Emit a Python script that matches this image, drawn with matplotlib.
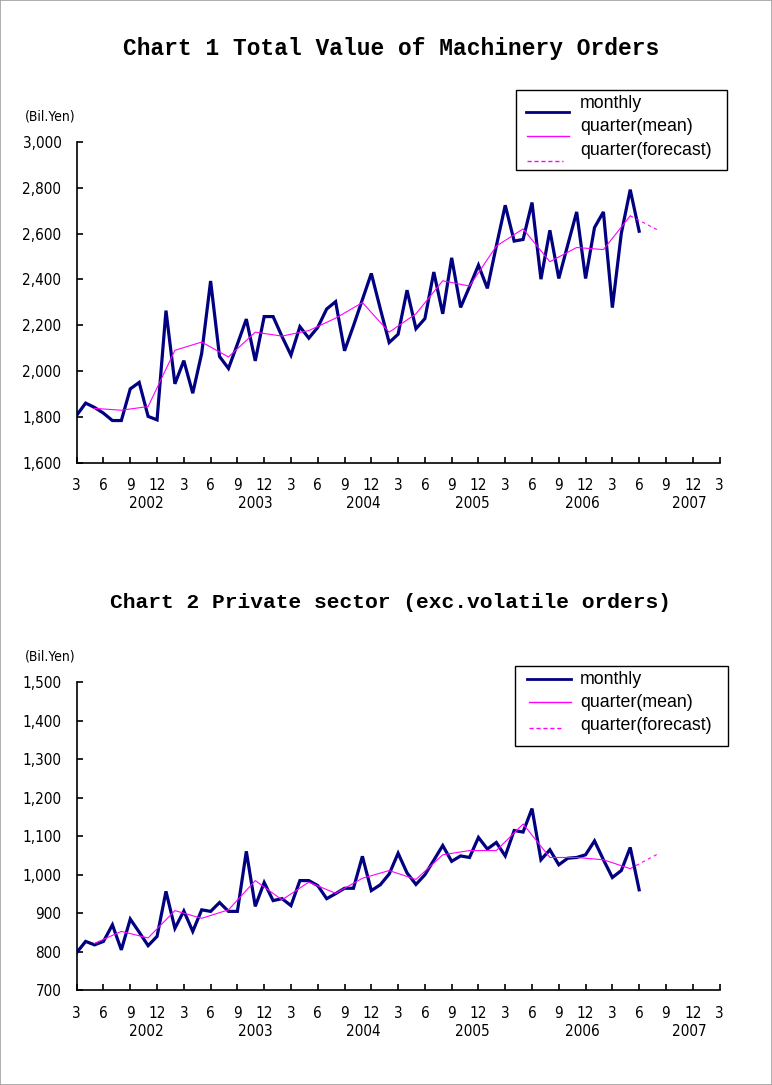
import matplotlib
matplotlib.use("Agg")
import matplotlib.pyplot as plt
import numpy as np
from matplotlib.lines import Line2D
from matplotlib.patches import Rectangle
from matplotlib import font_manager as fm

# ---------------- data ----------------
month_tick_labels = ["3", "6", "9", "12"] * 6 + ["3"]
year_labels = ["2002", "2003", "2004", "2005", "2006", "2007"]
year_label_pos = [7.8, 20.0, 32.1, 44.3, 56.6, 68.6]   # month index positions (0 = March 2002)

total_monthly = [1808, 1861, 1842, 1817, 1785, 1785, 1923, 1951, 1803, 1788,
                 2264, 1945, 2046, 1904, 2078, 2393, 2064, 2012, 2118, 2227,
                 2045, 2238, 2238, 2151, 2070, 2194, 2144, 2191, 2271, 2303,
                 2089, 2198, 2312, 2426, 2273, 2125, 2161, 2353, 2185, 2229,
                 2432, 2250, 2494, 2278, 2368, 2462, 2361, 2545, 2723, 2567,
                 2574, 2735, 2401, 2614, 2404, 2550, 2694, 2404, 2626, 2694,
                 2277, 2600, 2791, 2610]
total_quarter = [1838, 1830, 1846, 2091, 2127, 2062, 2170, 2153, 2177, 2231,
                 2299, 2170, 2250, 2394, 2371, 2545, 2620, 2477, 2539, 2530, 2677]
total_forecast = [2677, 2617]

private_monthly = [798, 827, 818, 827, 870, 805, 885, 851, 816, 840,
                   957, 861, 906, 853, 909, 905, 928, 905, 905, 1061,
                   918, 980, 933, 938, 920, 985, 985, 972, 938, 951,
                   965, 965, 1048, 959, 974, 1002, 1056, 1005, 975, 1000,
                   1038, 1076, 1035, 1049, 1045, 1097, 1067, 1084, 1049, 1115,
                   1111, 1172, 1039, 1065, 1026, 1043, 1045, 1052, 1088, 1039,
                   993, 1011, 1071, 961]
private_quarter = [822, 853, 836, 907, 887, 909, 985, 935, 981, 952,
                   991, 1011, 988, 1052, 1063, 1063, 1132, 1045, 1045, 1039, 1016]
private_forecast = [1016, 1053]

legend_labels = ["monthly", "quarter(mean)", "quarter(forecast)"]

# ---------------- style ----------------
W, H = 772, 1085
NAVY = "#000080"
MAG = "#FF00FF"

names = {f.name for f in fm.fontManager.ttflist}
if "Liberation Sans Narrow" in names:
    TICK_FP = dict(family=["Liberation Sans Narrow", "DejaVu Sans"], size=11.5)
else:
    TICK_FP = dict(family=["DejaVu Sans"], stretch="condensed", size=11)
TEXT_FONT = ["Liberation Sans", "DejaVu Sans"]
TITLE_FONT = ["Liberation Mono", "DejaVu Sans Mono"]

fig = plt.figure(figsize=(W / 100, H / 100), dpi=100)
fig.patch.set_facecolor("white")
fig.patches.append(Rectangle((0, 0), 1, 1, transform=fig.transFigure,
                             fill=False, edgecolor="#a0a0a0", lw=1.2))


def fx(px):
    return px / W


def fy(py):
    return 1 - py / H


def make_panel(top_px, bot_px, monthly, quarter, forecast, ylim, ystep,
               title, title_y, title_size, unit_y, year_y, legend_box, legend_rows):
    ax = fig.add_axes([fx(76.7), fy(bot_px), fx(719.5) - fx(76.7), (bot_px - top_px) / H])
    xm = np.arange(len(monthly))
    xq = np.arange(2, 2 + 3 * len(quarter), 3)
    xf = np.array([xq[-1], xq[-1] + 3])
    ax.plot(xm, monthly, color=NAVY, lw=2.3, solid_joinstyle="miter")
    ax.plot(xq, quarter, color=MAG, lw=0.8)
    ax.plot(xf, forecast, color=MAG, lw=0.8, ls=(0, (3, 3)))
    ax.set_xlim(0, 72)
    ax.set_ylim(*ylim)
    ax.set_xticks(np.arange(0, 73, 3))
    ax.set_xticklabels(month_tick_labels)
    yt = np.arange(ylim[0], ylim[1] + 1, ystep)
    ax.set_yticks(yt)
    ax.set_yticklabels([f"{v:,}" for v in yt])
    for s in ["top", "right"]:
        ax.spines[s].set_visible(False)
    for s in ["left", "bottom"]:
        ax.spines[s].set_linewidth(1.2)
    ax.tick_params(direction="in", length=4, width=1.2, pad=11)
    for lab in ax.get_xticklabels() + ax.get_yticklabels():
        lab.set_fontproperties(fm.FontProperties(**TICK_FP))
    yfrac = -(year_y - bot_px) / (bot_px - top_px)
    for pos, lab in zip(year_label_pos, year_labels):
        ax.text(pos, yfrac, lab, transform=ax.get_xaxis_transform(), ha="center",
                va="center", fontproperties=fm.FontProperties(**TICK_FP))
    fig.text(fx(391), fy(title_y), title, ha="center", va="center", family=TITLE_FONT,
             fontweight="bold", fontsize=title_size)
    unit_fp = dict(TICK_FP)
    unit_fp["size"] = TICK_FP["size"] - 1
    fig.text(fx(25), fy(unit_y), "(Bil.Yen)", ha="left", va="center",
             fontproperties=fm.FontProperties(**unit_fp))
    x0, y0, x1, y1 = legend_box
    fig.patches.append(Rectangle((fx(x0), fy(y1)), fx(x1) - fx(x0), (y1 - y0) / H,
                                 transform=fig.transFigure, fill=True, facecolor="white",
                                 edgecolor="black", lw=1.0, zorder=5))
    styles = [dict(color=NAVY, lw=2.0), dict(color=MAG, lw=1.0),
              dict(color=MAG, lw=1.0, ls=(0, (3, 2)))]
    for (ty, ly, lx0, lx1), lab, st in zip(legend_rows, legend_labels, styles):
        fig.text(fx(580), fy(ty), lab, ha="left", va="center", family=TEXT_FONT,
                 fontsize=12.8, zorder=6)
        fig.lines.append(Line2D([fx(lx0), fx(lx1)], [fy(ly), fy(ly)],
                                transform=fig.transFigure, zorder=6, **st))
    return ax


make_panel(141.7, 463, total_monthly, total_quarter, total_forecast, (1600, 3000), 200,
           "Chart 1 Total Value of Machinery Orders", 49, 16.5, 117, 504,
           (516, 90, 727, 170),
           [(103, 112.5, 526, 569), (126.5, 136.5, 527, 569), (150, 161, 527, 563)])

make_panel(682.3, 990.3, private_monthly, private_quarter, private_forecast, (700, 1500), 100,
           "Chart 2 Private sector (exc.volatile orders)", 603, 15.3, 657, 1031,
           (515, 666, 728, 746),
           [(679.5, 679, 527, 571), (702.5, 702.3, 529, 571), (725.5, 727.5, 529, 563)])

fig.savefig("out.png", dpi=100, facecolor="white")
